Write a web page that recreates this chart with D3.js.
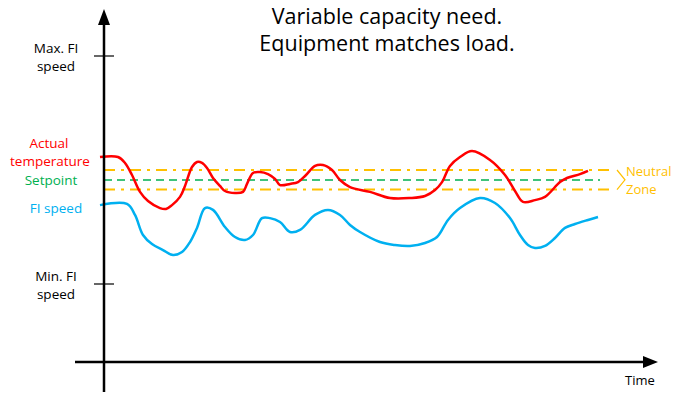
<!DOCTYPE html>
<html><head><meta charset="utf-8">
<script src="https://cdn.jsdelivr.net/npm/d3@7"></script>
<style>html,body{margin:0;padding:0;background:#fff;}svg{display:block;font-family:"Open Sans",Lato,sans-serif;}</style>
</head><body>
<svg id="c" width="674" height="394"></svg>
<script>
// ---- data ----
const titleLines = ["Variable capacity need.", "Equipment matches load."];
const tempTime  = [0,3.6,5,6.4,8,9.6,12,13.2,14.4,16,17,18.4,19.4,20.4,21.4,22.6,24,25,27,28.6,29.4,30.6,32,33.6,35,36,38,39.6,41.2,43,44.6,46.4,48,50,54,58,62,65,67,68.4,70,72,74.4,78,81,83,84.6,87,89,92,93.4,96,97.6];
const tempValue = [55.7,55.7,53.1,47.8,40.4,36.4,33.3,32.9,34.6,38.2,43,51.3,53.5,53.1,50.9,46.5,43,40.8,39.9,40.4,43.9,48.7,49.1,48.2,46.1,43.4,43.9,44.7,47.8,51.8,52.2,50,45.6,42.5,40.4,37.7,37.7,38.6,41.2,44.7,51.8,55.7,58.3,54.4,47.8,40.8,36,36.8,38.2,44.7,46.5,48.2,49.6];
const speedTime  = [0,5.4,7,8.6,10.4,12.6,14.6,16.4,18,19.4,21,22.6,25,27,29,30.6,32.4,34,36,38,40,43,45.6,48,50,52,56,59,62,65,67.4,69.6,72,76,79,82,84,85.6,87,89,91,93,95,97.6,99.6];
const speedValue = [34.6,35.1,30.3,21.5,17.5,14.9,12.7,14,18.4,24.6,33.3,32.5,25,20.6,19.3,21.5,28.9,28.9,27.2,22.8,23.7,30.3,32.5,30.3,25.9,22.8,18.4,17.1,16.7,18,20.6,28.1,33.3,37.7,35.5,28.9,21.5,17.1,15.8,16.7,20.2,24.6,26.3,28.1,29.4];
const setpoint = 45.6;
const zoneHigh = 50;
const zoneLow = 41.4;
const yTickValues = [100, 0];
const yTickLabels = [["Max. FI","speed"], ["Min. FI","speed"]];
const xLabel = "Time";
const zoneLabel = ["Neutral","Zone"];
const seriesLabels = [["Actual","temperature"], ["Setpoint"], ["FI speed"]];

// ---- drawing ----
const svg = d3.select("#c");
const x = d3.scaleLinear().domain([0,100]).range([100,600]);
const y = d3.scaleLinear().domain([0,100]).range([284,56]);
const RED="#ff0000", BLUE="#00b0f0", GREEN="#00b050", ORANGE="#ffc000";

// title
svg.append("text").attr("x",387).attr("y",24).attr("text-anchor","middle")
  .attr("font-size",21.5).attr("fill","#000").text(titleLines[0]);
svg.append("text").attr("x",387).attr("y",51).attr("text-anchor","middle")
  .attr("font-size",21.5).attr("fill","#000").text(titleLines[1]);

// neutral zone lines
const zx0 = 104, zx1 = 615;
[zoneHigh, zoneLow].forEach(v=>{
  svg.append("line").attr("x1",zx0).attr("x2",zx1).attr("y1",y(v)).attr("y2",y(v))
    .attr("stroke",ORANGE).attr("stroke-width",2).attr("stroke-dasharray","11,6,3,6");
});
svg.append("line").attr("x1",zx0).attr("x2",600).attr("y1",y(setpoint)).attr("y2",y(setpoint))
  .attr("stroke",GREEN).attr("stroke-width",1.5).attr("stroke-dasharray","8,5");
// chevron
svg.append("path").attr("d",`M617,${y(zoneHigh)} L625,${(y(zoneHigh)+y(zoneLow))/2} L617,${y(zoneLow)}`)
  .attr("fill","none").attr("stroke",ORANGE).attr("stroke-width",1.2);
svg.append("text").attr("x",626).attr("y",176).attr("font-size",13).attr("fill",ORANGE).text(zoneLabel[0]);
svg.append("text").attr("x",626).attr("y",194).attr("font-size",13).attr("fill",ORANGE).text(zoneLabel[1]);

// series
const line = d3.line().x(d=>x(d[0])).y(d=>y(d[1])).curve(d3.curveCatmullRom.alpha(0.5));
svg.append("path").datum(speedTime.map((t,i)=>[t,speedValue[i]])).attr("d",line)
  .attr("fill","none").attr("stroke",BLUE).attr("stroke-width",2.5).attr("stroke-linejoin","round");
svg.append("path").datum(tempTime.map((t,i)=>[t,tempValue[i]])).attr("d",line)
  .attr("fill","none").attr("stroke",RED).attr("stroke-width",2.5).attr("stroke-linejoin","round");

// axes
const ax = 104, ayBase = 362;
svg.append("line").attr("x1",ax).attr("x2",ax).attr("y1",22).attr("y2",392).attr("stroke","#000").attr("stroke-width",2.5);
svg.append("path").attr("d",`M${ax},9 L${ax-6},25 L${ax+6},25 Z`).attr("fill","#000");
svg.append("line").attr("x1",75).attr("x2",646).attr("y1",ayBase).attr("y2",ayBase).attr("stroke","#000").attr("stroke-width",2.5);
svg.append("path").attr("d",`M658,${ayBase} L643,${ayBase-6} L643,${ayBase+6} Z`).attr("fill","#000");
svg.append("text").attr("x",640).attr("y",385).attr("text-anchor","middle").attr("font-size",13).text(xLabel);

// y ticks
yTickValues.forEach((v,i)=>{
  svg.append("line").attr("x1",94).attr("x2",114).attr("y1",y(v)).attr("y2",y(v)).attr("stroke","#000").attr("stroke-width",1.2);
  const ty = y(v);
  svg.append("text").attr("x",56).attr("y",ty-3).attr("text-anchor","middle").attr("font-size",13.5).text(yTickLabels[i][0]);
  svg.append("text").attr("x",56).attr("y",ty+15).attr("text-anchor","middle").attr("font-size",13.5).text(yTickLabels[i][1]);
});

// series labels
svg.append("text").attr("x",49).attr("y",148).attr("text-anchor","middle").attr("font-size",13.5).attr("fill",RED).text(seriesLabels[0][0]);
svg.append("text").attr("x",50).attr("y",166).attr("text-anchor","middle").attr("font-size",13.5).attr("fill",RED).text(seriesLabels[0][1]);
svg.append("text").attr("x",51).attr("y",185).attr("text-anchor","middle").attr("font-size",13.5).attr("fill",GREEN).text(seriesLabels[1][0]);
svg.append("text").attr("x",56).attr("y",213).attr("text-anchor","middle").attr("font-size",13.5).attr("fill",BLUE).text(seriesLabels[2][0]);
</script>
</body></html>
